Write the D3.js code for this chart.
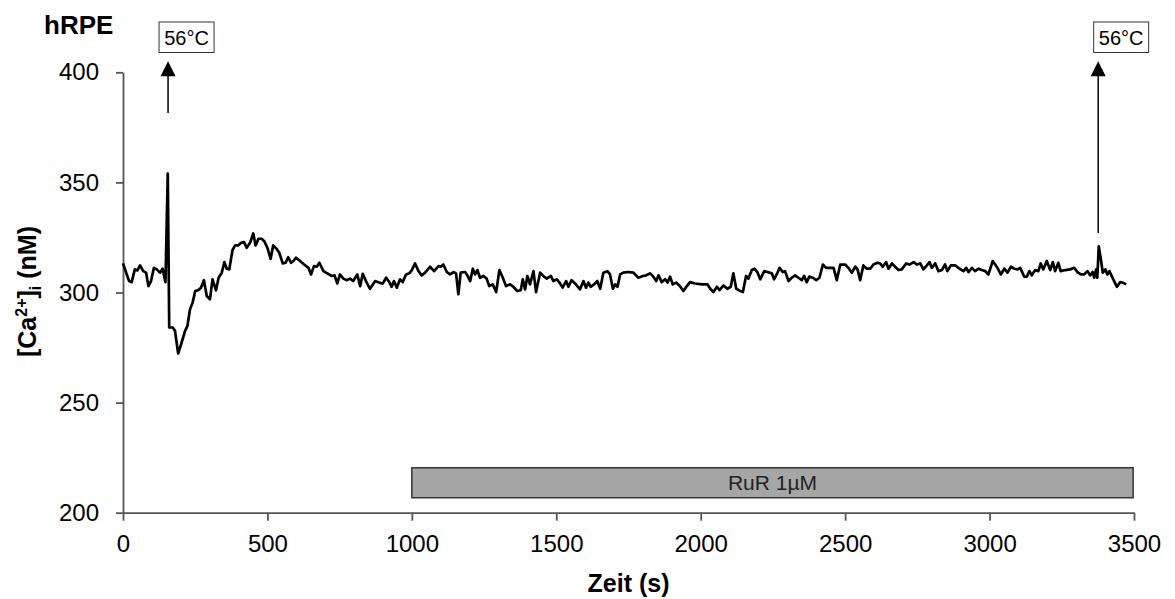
<!DOCTYPE html>
<html>
<head>
<meta charset="utf-8">
<script src="https://cdn.jsdelivr.net/npm/d3@7"></script>
<style>
  body { margin: 0; background: #fff; }
  svg { display: block; font-family: "Liberation Sans", Arial, sans-serif; }
</style>
</head>
<body>
<svg id="chart" width="1175" height="599"></svg>
<script>
// Messzeitpunkte (s)
const zeit = [
  0, 21, 30, 41, 50, 59, 70, 80, 88, 97, 107, 117, 128, 137, 147, 155, 160, 172, 180, 191,
  203, 215, 223, 232, 241, 250, 261, 270, 280, 290, 301, 310, 322, 331, 342, 351, 359, 368, 379, 388,
  399, 409, 419, 428, 440, 451, 459, 469, 480, 489, 500, 511, 520, 532, 541, 553, 563, 572, 582, 590,
  599, 613, 627, 642, 651, 661, 671, 680, 694, 707, 723, 732, 742, 751, 763, 775, 786, 797, 811, 821,
  830, 841, 855, 873, 884, 899, 911, 922, 930, 938, 948, 959, 968, 980, 991, 1000, 1011, 1023, 1034, 1046,
  1063, 1077, 1092, 1100, 1109, 1121, 1132, 1144, 1153, 1161, 1169, 1184, 1192, 1202, 1211, 1219, 1227, 1236, 1248, 1259,
  1268, 1280, 1292, 1303, 1315, 1326, 1340, 1351, 1365, 1377, 1384, 1392, 1400, 1409, 1421, 1430, 1444, 1455, 1467, 1481,
  1490, 1502, 1511, 1522, 1534, 1542, 1553, 1565, 1582, 1594, 1603, 1611, 1619, 1631, 1642, 1652, 1663, 1677, 1686, 1696,
  1704, 1712, 1721, 1732, 1750, 1767, 1784, 1800, 1811, 1825, 1836, 1846, 1854, 1865, 1877, 1885, 1894, 1903, 1915, 1926,
  1940, 1952, 1963, 1981, 2004, 2023, 2033, 2044, 2056, 2065, 2079, 2092, 2104, 2113, 2123, 2136, 2146, 2157, 2165, 2177,
  2186, 2196, 2206, 2220, 2231, 2246, 2254, 2263, 2273, 2284, 2292, 2304, 2315, 2327, 2338, 2350, 2358, 2367, 2376, 2388,
  2400, 2411, 2423, 2434, 2448, 2460, 2471, 2483, 2500, 2511, 2523, 2535, 2543, 2552, 2563, 2575, 2587, 2598, 2612, 2621,
  2630, 2642, 2650, 2662, 2673, 2685, 2696, 2711, 2723, 2737, 2748, 2760, 2771, 2783, 2792, 2800, 2812, 2823, 2835, 2846,
  2854, 2866, 2881, 2896, 2910, 2919, 2927, 2939, 2950, 2962, 2973, 2985, 2996, 3011, 3025, 3039, 3051, 3062, 3074, 3085,
  3097, 3106, 3120, 3129, 3138, 3146, 3158, 3169, 3177, 3186, 3198, 3210, 3219, 3227, 3238, 3246, 3262, 3279, 3293, 3304,
  3316, 3327, 3339, 3348, 3357, 3362, 3369, 3373, 3378, 3385, 3392, 3401, 3408, 3415, 3427, 3441, 3452, 3461, 3473
];

// [Ca2+]i (nM)
const calcium = [
  313.2, 305.2, 304.7, 310.5, 310.0, 312.3, 309.7, 309.0, 302.9, 305.2, 311.2, 310.5, 309.0, 310.8, 304.7, 354.0, 284.1, 284.1, 282.6, 272.3,
  277.3, 282.6, 284.8, 292.4, 295.4, 300.7, 301.1, 302.2, 305.6, 298.4, 296.9, 306.0, 301.0, 306.7, 309.0, 313.8, 310.8, 310.5, 319.2, 321.4,
  321.4, 322.6, 322.9, 320.3, 322.6, 326.8, 321.4, 324.4, 324.4, 323.3, 320.3, 315.3, 321.4, 319.8, 318.0, 313.2, 313.5, 316.0, 313.5, 314.3,
  315.8, 314.3, 312.7, 311.2, 308.2, 312.0, 311.7, 313.5, 309.7, 308.7, 307.5, 307.8, 304.1, 308.2, 306.3, 305.6, 306.3, 305.2, 308.2, 302.9,
  308.5, 305.2, 301.7, 305.2, 304.7, 304.0, 306.7, 304.7, 302.6, 305.2, 302.2, 306.0, 304.7, 308.2, 308.7, 310.2, 313.2, 309.7, 307.8, 309.0,
  311.7, 309.7, 312.0, 311.7, 312.7, 309.3, 308.2, 309.3, 308.7, 299.2, 309.0, 309.3, 307.8, 305.2, 310.8, 308.2, 310.2, 306.7, 307.5, 306.3,
  302.9, 303.7, 300.2, 310.2, 306.7, 302.9, 303.7, 302.6, 300.7, 301.0, 306.0, 301.4, 307.5, 303.7, 309.7, 300.2, 309.0, 307.5, 306.3, 307.5,
  305.2, 306.0, 304.5, 302.2, 305.2, 302.6, 305.6, 304.1, 301.4, 305.2, 302.2, 304.5, 302.6, 303.7, 305.2, 301.7, 309.0, 309.7, 308.2, 301.7,
  303.7, 302.6, 308.2, 309.0, 309.3, 309.0, 306.7, 307.5, 307.8, 308.7, 307.2, 305.2, 307.8, 304.7, 306.0, 304.5, 307.2, 303.7, 304.5, 303.2,
  300.7, 302.9, 304.7, 304.1, 303.7, 303.7, 301.7, 300.2, 302.6, 301.1, 303.2, 301.7, 302.6, 308.7, 301.7, 300.7, 300.2, 307.5, 306.3, 310.2,
  310.8, 309.3, 306.0, 309.7, 309.3, 308.7, 306.0, 308.2, 311.2, 309.3, 309.7, 305.2, 306.7, 307.8, 306.7, 305.6, 307.5, 304.7, 307.2, 306.7,
  305.6, 306.7, 312.7, 311.2, 311.2, 311.2, 305.6, 312.7, 312.7, 311.2, 309.0, 311.7, 310.5, 305.6, 312.3, 310.8, 310.8, 312.7, 313.5, 313.2,
  311.7, 313.8, 310.8, 313.2, 311.7, 310.2, 310.5, 313.2, 312.7, 313.8, 312.7, 313.2, 310.5, 312.3, 313.8, 311.2, 313.2, 309.7, 310.2, 312.7,
  309.7, 312.3, 312.3, 310.8, 309.7, 311.2, 309.3, 311.2, 309.7, 310.8, 310.2, 309.7, 308.2, 314.3, 311.7, 308.2, 310.8, 309.0, 311.7, 310.8,
  310.5, 311.2, 307.2, 307.2, 309.7, 307.8, 310.2, 309.7, 313.2, 310.5, 314.3, 310.2, 313.8, 309.7, 313.5, 309.7, 310.2, 310.5, 311.2, 309.3,
  308.2, 308.2, 309.7, 307.8, 309.3, 306.7, 310.5, 306.7, 321.0, 315.3, 309.0, 310.5, 308.2, 309.7, 306.3, 302.6, 304.7, 304.5, 303.7
];

// Achsenbeschriftung
const xTicks = [0, 500, 1000, 1500, 2000, 2500, 3000, 3500];
const yTicks = [200, 250, 300, 350, 400];

// Reizmarker 56°C: Zeitpunkt, Pfeilanfang und -spitze (nM)
const reizZeit = [156, 3376];
const reizVon = [381.5, 327];
const reizBis = [405, 405];
const reizText = ["56°C", "56°C"];

// Behandlungsbalken RuR
const balkenStart = [1000];
const balkenEnde = [3497];
const balkenText = ["RuR 1µM"];
const balkenUnten = 206.8;
const balkenOben = 220.4;

const svg = d3.select("#chart");
const plotLeft = 123, plotRight = 1134, plotTop = 72.3, plotBottom = 512.7;

const x = d3.scaleLinear().domain([0, 3500]).range([plotLeft, plotRight]);
const y = d3.scaleLinear().domain([200, 400]).range([plotBottom, plotTop]);

// RuR Balken
const bar = svg.append("g");
balkenStart.forEach((s, i) => {
    bar.append("rect")
        .attr("x", x(s))
        .attr("y", y(balkenOben))
        .attr("width", x(balkenEnde[i]) - x(s))
        .attr("height", y(balkenUnten) - y(balkenOben))
        .attr("fill", "#a6a6a6")
        .attr("stroke", "#333")
        .attr("stroke-width", 1.5);
    bar.append("text")
        .attr("x", (x(s) + x(balkenEnde[i])) / 2)
        .attr("y", (y(balkenOben) + y(balkenUnten)) / 2 + 7.5)
        .attr("text-anchor", "middle")
        .attr("font-size", "21px")
        .attr("fill", "#222")
        .text(balkenText[i]);
});

// Achsen
const xAxis = svg.append("g")
    .attr("transform", `translate(0,${plotBottom})`)
    .call(d3.axisBottom(x).tickValues(xTicks).tickFormat(d3.format("d")).tickSize(8).tickPadding(14).tickSizeOuter(0));
const yAxis = svg.append("g")
    .attr("transform", `translate(${plotLeft},0)`)
    .call(d3.axisLeft(y).tickValues(yTicks).tickSize(7).tickPadding(17).tickSizeOuter(0));

[xAxis, yAxis].forEach(ax => {
    ax.select(".domain").attr("stroke", "#555").attr("stroke-width", 1.8);
    ax.selectAll(".tick line").attr("stroke", "#555").attr("stroke-width", 1.8);
    ax.selectAll(".tick text")
        .attr("fill", "#000")
        .attr("font-size", "24px")
        .attr("font-family", "Liberation Sans, Arial, sans-serif");
});

// Messkurve
const line = d3.line()
    .x((d, i) => x(zeit[i]))
    .y(d => y(d));

svg.append("path")
    .datum(calcium)
    .attr("d", line)
    .attr("fill", "none")
    .attr("stroke", "#000")
    .attr("stroke-width", 2.7)
    .attr("stroke-linejoin", "round");

// Pfeile und Kästchen 56°C
const marks = svg.append("g");
reizZeit.forEach((t, i) => {
    const ax = x(t);
    const tip = y(reizBis[i]);
    marks.append("line")
        .attr("x1", ax).attr("y1", y(reizVon[i]))
        .attr("x2", ax).attr("y2", tip + 12)
        .attr("stroke", "#000")
        .attr("stroke-width", 1.5);
    marks.append("polygon")
        .attr("points", `${ax},${tip} ${ax - 7.5},${tip + 15} ${ax + 7.5},${tip + 15}`)
        .attr("fill", "#000");
    const bx = i === 0 ? ax - 9 : ax - 4.5;
    marks.append("rect")
        .attr("x", bx).attr("y", 22)
        .attr("width", 55).attr("height", 30.5)
        .attr("fill", "#fff")
        .attr("stroke", "#333")
        .attr("stroke-width", 1);
    marks.append("text")
        .attr("x", bx + 27.5).attr("y", 45)
        .attr("text-anchor", "middle")
        .attr("font-size", "20px")
        .text(reizText[i]);
});

// Titel
svg.append("text")
    .attr("x", 44).attr("y", 34)
    .attr("font-size", "26px")
    .attr("font-weight", "bold")
    .text("hRPE");

svg.append("text")
    .attr("x", (plotLeft + plotRight) / 2).attr("y", 592)
    .attr("text-anchor", "middle")
    .attr("font-size", "25px")
    .attr("font-weight", "bold")
    .text("Zeit (s)");

const yTitle = svg.append("text")
    .attr("transform", `translate(36,${(plotTop + plotBottom) / 2 - 1}) rotate(-90)`)
    .attr("text-anchor", "middle")
    .attr("font-size", "25px")
    .attr("font-weight", "bold");
yTitle.append("tspan").text("[Ca");
yTitle.append("tspan").attr("dy", -9).attr("font-size", "16px").text("2+");
yTitle.append("tspan").attr("dy", 9).text("]");
yTitle.append("tspan").attr("dy", 5).attr("font-size", "16px").text("i");
yTitle.append("tspan").attr("dy", -5).text(" (nM)");
</script>
</body>
</html>
